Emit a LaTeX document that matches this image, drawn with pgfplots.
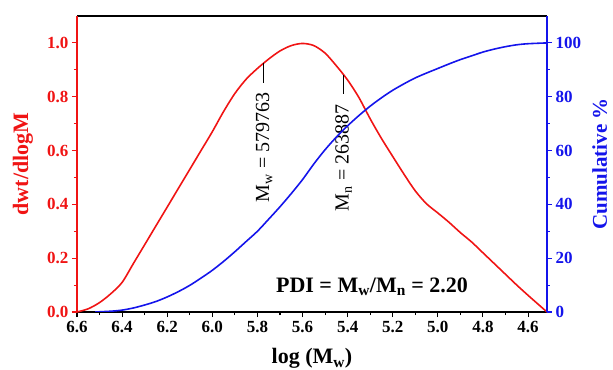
\documentclass[border=0pt]{standalone}
\usepackage{fontspec}
\setmainfont{Liberation Serif}
\usepackage{pgfplots}
\pgfplotsset{compat=1.18}
\definecolor{cred}{RGB}{240,20,20}
\definecolor{cblue}{RGB}{20,20,235}
\begin{document}
\begin{tikzpicture}
\begin{axis}[
  at={(0,0)}, anchor=south west,
  scale only axis, width=470bp, height=296bp,
  x dir=reverse, xmin=4.516, xmax=6.6,
  ymin=0, ymax=1.1,
  axis x line*=box, axis y line*=left,
  x axis line style={black, line width=1.4pt},
  y axis line style={cred, line width=1.4pt},
  tick align=outside, xtick pos=lower,
  xtick={4.6,4.8,5.0,5.2,5.4,5.6,5.8,6.0,6.2,6.4,6.6},
  xticklabels={4.6,4.8,5.0,5.2,5.4,5.6,5.8,6.0,6.2,6.4,6.6},
  minor x tick num=1,
  ytick={0,0.2,0.4,0.6,0.8,1.0},
  yticklabels={0.0,0.2,0.4,0.6,0.8,1.0},
  minor y tick num=1,
  xtick style={black, line width=1.1pt},
  ytick style={cred, line width=1.1pt},
  major tick length=5bp, minor tick length=3bp,
  xticklabel style={font=\fontsize{17bp}{20bp}\selectfont\bfseries, black, yshift=-1bp},
  yticklabel style={font=\fontsize{17bp}{20bp}\selectfont\bfseries, cred},
  xlabel={log (M\textsubscript{w})},
  ylabel={dwt/dlogM},
  every axis x label/.style={at={(axis description cs:0.5,-0.158)}, anchor=center, font=\fontsize{22bp}{26bp}\selectfont\bfseries, black},
  every axis y label/.style={at={(axis description cs:-0.1149,0.5)}, anchor=center, rotate=90, font=\fontsize{22bp}{26bp}\selectfont\bfseries, cred},
  clip=false,
]
\addplot[cred, line width=1.6pt, smooth, tension=0.5] coordinates {
 (6.600,0.000) (6.550,0.012) (6.500,0.035) (6.450,0.068) (6.400,0.110)
 (6.350,0.180) (6.300,0.250) (6.250,0.320) (6.200,0.390) (6.150,0.460)
 (6.100,0.530) (6.050,0.600) (6.000,0.670) (5.950,0.745) (5.900,0.812)
 (5.850,0.865) (5.800,0.905) (5.750,0.940) (5.700,0.970) (5.650,0.990)
 (5.600,0.998) (5.550,0.990) (5.500,0.962) (5.450,0.915) (5.400,0.862)
 (5.350,0.797) (5.300,0.718) (5.250,0.645) (5.200,0.578) (5.150,0.512)
 (5.100,0.450) (5.050,0.402) (5.000,0.368) (4.950,0.333) (4.900,0.295)
 (4.850,0.260) (4.800,0.220) (4.750,0.180) (4.700,0.140) (4.650,0.100)
 (4.600,0.062) (4.550,0.025) (4.516,0.000)
};
\draw[black, line width=1.1pt] (axis cs:5.774,0.925) -- (axis cs:5.774,0.852);
\node[rotate=90, anchor=east, font=\fontsize{20bp}{24bp}\selectfont] at (axis cs:5.770,0.828) {M\textsubscript{w} = 579763};
\draw[black, line width=1.1pt] (axis cs:5.420,0.880) -- (axis cs:5.420,0.810);
\node[rotate=90, anchor=east, font=\fontsize{20bp}{24bp}\selectfont] at (axis cs:5.418,0.784) {M\textsubscript{n} = 263887};
\node[font=\fontsize{22bp}{26bp}\selectfont\bfseries] at (axis cs:5.292,0.095) {PDI = M\textsubscript{w}/M\textsubscript{n} = 2.20};
\end{axis}
\begin{axis}[
  at={(0,0)}, anchor=south west,
  scale only axis, width=470bp, height=296bp,
  x dir=reverse, xmin=4.516, xmax=6.6,
  ymin=0, ymax=110,
  axis x line=none, axis y line*=right,
  y axis line style={cblue, line width=1.4pt},
  tick align=outside,
  ytick={0,20,40,60,80,100},
  yticklabels={0,20,40,60,80,100},
  minor y tick num=1,
  ytick style={cblue, line width=1.1pt},
  major tick length=5bp, minor tick length=3bp,
  yticklabel style={font=\fontsize{17bp}{20bp}\selectfont\bfseries, cblue},
  ylabel={Cumulative \%},
  every axis y label/.style={at={(axis description cs:1.112,0.5)}, anchor=center, rotate=90, font=\fontsize{21bp}{25bp}\selectfont\bfseries, cblue},
]
\addplot[cblue, line width=1.6pt, smooth, tension=0.5] coordinates {
 (6.520,0.0) (6.450,0.3) (6.400,0.7) (6.350,1.5) (6.300,2.6) (6.250,3.9)
 (6.200,5.6) (6.150,7.6) (6.100,9.9) (6.050,12.6) (6.000,15.5)
 (5.950,18.8) (5.900,22.4) (5.850,26.2) (5.800,30.0) (5.750,34.5)
 (5.700,39.1) (5.650,44.0) (5.600,49.2) (5.550,55.0) (5.500,60.3)
 (5.450,65.0) (5.400,69.2) (5.350,73.0) (5.300,76.5) (5.250,79.6)
 (5.200,82.4) (5.150,84.8) (5.100,87.0) (5.050,88.8) (5.000,90.5)
 (4.950,92.2) (4.900,93.8) (4.850,95.2) (4.800,96.6) (4.750,97.7)
 (4.700,98.6) (4.650,99.3) (4.600,99.7) (4.516,100.0)
};
\end{axis}
\pgfresetboundingbox
\path[use as bounding box] (-77bp,-58bp) rectangle (536bp,312bp);
\end{tikzpicture}
\end{document}
